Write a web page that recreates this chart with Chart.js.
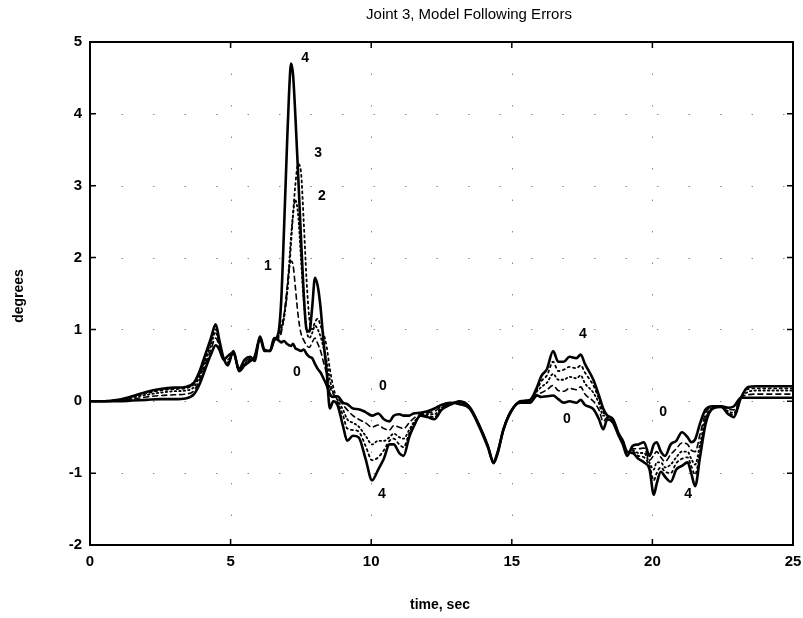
<!DOCTYPE html>
<html>
<head>
<meta charset="utf-8">
<script src="https://cdn.jsdelivr.net/npm/chart.js@4/dist/chart.umd.min.js"></script>
<style>
  html, body { margin: 0; padding: 0; background: #fff; }
  #wrap { width: 803px; height: 618px; }
</style>
</head>
<body>
<div id="wrap"><canvas id="c" width="803" height="618"></canvas></div>
<script>
// Time base shared by all five error traces (sec)
const times = [
  0, 0.5, 1, 1.5, 2, 2.5, 3, 3.4, 3.7, 3.9,
  4.1, 4.3, 4.47, 4.6, 4.75, 4.9, 5.1, 5.3, 5.5, 5.7,
  5.85, 6.05, 6.2, 6.4, 6.55, 6.7, 6.8, 6.9, 7.0, 7.08,
  7.15, 7.22, 7.3, 7.4, 7.5, 7.6, 7.7, 7.8, 7.9, 8.0,
  8.1, 8.2, 8.3, 8.42, 8.53, 8.65, 8.8, 9.0, 9.15, 9.35,
  9.55, 9.8, 10.03, 10.25, 10.45, 10.65, 10.8, 11.0, 11.15, 11.35,
  11.5, 11.75, 12.0, 12.25, 12.5, 12.8, 13.15, 13.5, 13.85, 14.15,
  14.35, 14.5, 14.7, 14.95, 15.3, 15.65, 15.9, 16.05, 16.25, 16.47,
  16.65, 16.85, 17.05, 17.3, 17.45, 17.6, 17.9, 18.1, 18.25, 18.4,
  18.6, 18.8, 18.95, 19.1, 19.3, 19.5, 19.7, 19.9, 20.05, 20.15,
  20.3, 20.45, 20.65, 20.85, 21.05, 21.25, 21.38, 21.52, 21.7, 21.9,
  22.15, 22.45, 22.7, 22.9, 23.15, 23.4, 23.7, 24.2, 25
];

// Model following error, degrees, for cases 0..4
const err0 = [
  0, 0, 0, 0.01, 0.02, 0.03, 0.03, 0.04, 0.1, 0.24,
  0.45, 0.65, 0.78, 0.72, 0.58, 0.63, 0.68, 0.45, 0.58, 0.62,
  0.56, 0.9, 0.72, 0.7, 0.88, 0.85, 0.82, 0.84, 0.8, 0.78,
  0.77, 0.8, 0.74, 0.72, 0.7, 0.72, 0.66, 0.62, 0.6, 0.52,
  0.45, 0.4, 0.32, 0.22, 0.1, 0.06, 0.07, -0.02, -0.04, -0.1,
  -0.11, -0.15, -0.2, -0.17, -0.25, -0.28, -0.2, -0.18, -0.2, -0.2,
  -0.17, -0.16, -0.14, -0.1, -0.05, -0.02, -0.04, -0.1, -0.36, -0.64,
  -0.84, -0.7, -0.4, -0.15, -0.02, -0.02, 0.08, 0.06, 0.07, 0.08,
  0.03, -0.02, 0.0, -0.02, 0.02, -0.05, -0.11, -0.25, -0.39, -0.25,
  -0.3, -0.48, -0.6, -0.76, -0.62, -0.6, -0.57, -0.76, -0.6, -0.57,
  -0.7, -0.76, -0.6, -0.55, -0.43, -0.5, -0.57, -0.53, -0.3, -0.11,
  -0.07, -0.07, -0.09, -0.07, 0.05, 0.05, 0.05, 0.05, 0.05
];
const err1 = [
  0, 0, 0.01, 0.03, 0.06, 0.08, 0.09, 0.1, 0.15, 0.3,
  0.52, 0.72, 0.88, 0.76, 0.6, 0.58, 0.66, 0.44, 0.54, 0.6,
  0.58, 0.88, 0.72, 0.7, 0.86, 0.88, 0.95, 1.2, 1.55, 1.85,
  1.95, 1.9, 1.6, 1.2, 0.95, 0.85, 0.78, 0.75, 0.82, 0.88,
  0.8, 0.7, 0.55, 0.38, 0.2, 0.1, 0.05, -0.05, -0.12, -0.2,
  -0.25, -0.3, -0.36, -0.33, -0.38, -0.4, -0.34, -0.36, -0.38, -0.3,
  -0.24, -0.18, -0.16, -0.14, -0.07, -0.03, -0.02, -0.09, -0.35, -0.63,
  -0.85, -0.71, -0.4, -0.15, -0.01, 0.0, 0.1, 0.12, 0.16, 0.22,
  0.15, 0.14, 0.18, 0.16, 0.2, 0.1, 0.0, -0.12, -0.28, -0.22,
  -0.28, -0.46, -0.58, -0.74, -0.66, -0.66, -0.65, -0.82, -0.75, -0.7,
  -0.78, -0.84, -0.74, -0.66, -0.58, -0.6, -0.68, -0.7, -0.45, -0.16,
  -0.08, -0.07, -0.11, -0.12, 0.05, 0.09, 0.1, 0.1, 0.1
];
const err2 = [
  0, 0, 0.01, 0.05, 0.09, 0.12, 0.14, 0.15, 0.2, 0.35,
  0.57, 0.78, 0.96, 0.8, 0.6, 0.54, 0.68, 0.43, 0.52, 0.58,
  0.6, 0.88, 0.71, 0.7, 0.85, 0.9, 1.0, 1.15, 1.5, 1.9,
  2.3, 2.6, 2.8, 2.6, 2.0, 1.4, 1.0, 0.88, 0.95, 1.05,
  1.0, 0.9, 0.75, 0.55, 0.3, 0.12, 0.02, -0.12, -0.25, -0.3,
  -0.35, -0.48, -0.6, -0.55, -0.55, -0.5, -0.45, -0.5, -0.52, -0.4,
  -0.3, -0.2, -0.18, -0.18, -0.09, -0.04, -0.01, -0.08, -0.34, -0.62,
  -0.85, -0.71, -0.39, -0.15, 0.0, 0.01, 0.14, 0.2, 0.26, 0.38,
  0.3, 0.3, 0.34, 0.32, 0.36, 0.25, 0.12, -0.03, -0.2, -0.2,
  -0.26, -0.45, -0.56, -0.72, -0.68, -0.72, -0.72, -0.86, -0.95, -0.85,
  -0.85, -0.92, -0.88, -0.78, -0.7, -0.7, -0.8, -0.88, -0.58, -0.22,
  -0.09, -0.07, -0.14, -0.16, 0.05, 0.13, 0.15, 0.15, 0.15
];
const err3 = [
  0, 0, 0.02, 0.06, 0.11, 0.15, 0.17, 0.18, 0.24, 0.38,
  0.6, 0.83, 1.0, 0.82, 0.6, 0.52, 0.69, 0.42, 0.51, 0.57,
  0.61, 0.88, 0.7, 0.7, 0.84, 0.92, 1.05, 1.2, 1.45, 1.8,
  2.2, 2.6, 3.0, 3.3, 3.2, 2.5, 1.7, 1.15, 1.0, 1.1,
  1.15, 1.05, 0.95, 0.75, 0.45, 0.2, 0.0, -0.2, -0.38, -0.4,
  -0.42, -0.62, -0.82, -0.78, -0.68, -0.55, -0.52, -0.6, -0.64, -0.45,
  -0.33, -0.2, -0.2, -0.22, -0.1, -0.05, 0.0, -0.08, -0.34, -0.62,
  -0.86, -0.72, -0.39, -0.16, 0.0, 0.02, 0.17, 0.28, 0.36, 0.55,
  0.42, 0.44, 0.48, 0.46, 0.5, 0.4, 0.22, 0.03, -0.15, -0.2,
  -0.26, -0.45, -0.56, -0.71, -0.7, -0.76, -0.78, -0.9, -1.1, -1.0,
  -0.92, -0.98, -1.0, -0.86, -0.8, -0.78, -0.9, -1.02, -0.68, -0.26,
  -0.1, -0.08, -0.16, -0.19, 0.05, 0.17, 0.18, 0.18, 0.18
];
const err4 = [
  0, 0, 0.02, 0.07, 0.13, 0.17, 0.19, 0.2, 0.26, 0.42,
  0.65, 0.88, 1.07, 0.85, 0.6, 0.5, 0.7, 0.42, 0.5, 0.56,
  0.62, 0.88, 0.7, 0.7, 0.85, 0.95, 1.4, 2.4, 3.5, 4.3,
  4.7, 4.55, 4.0, 3.17, 2.3, 1.5, 1.0, 0.97, 1.3, 1.72,
  1.6, 1.3, 0.85, 0.4, -0.1, 0.0, -0.05, -0.35, -0.55, -0.48,
  -0.5, -0.8, -1.1, -0.95, -0.8, -0.6, -0.6, -0.72, -0.76, -0.5,
  -0.36, -0.2, -0.22, -0.25, -0.12, -0.05, 0.0, -0.08, -0.34, -0.62,
  -0.86, -0.72, -0.39, -0.16, 0.0, 0.02, 0.2, 0.35, 0.45, 0.7,
  0.55, 0.55, 0.62, 0.6, 0.65, 0.52, 0.3, 0.08, -0.1, -0.2,
  -0.25, -0.45, -0.55, -0.7, -0.72, -0.8, -0.85, -0.95, -1.3, -1.15,
  -0.98, -1.05, -1.12, -0.95, -0.9, -0.85, -1.0, -1.18, -0.76, -0.3,
  -0.1, -0.08, -0.18, -0.22, 0.05, 0.2, 0.21, 0.21, 0.21
];

// Axis tick values
const xTickValues = [0, 5, 10, 15, 20, 25];
const yTickValues = [-2, -1, 0, 1, 2, 3, 4, 5];

// Case numbers written next to the traces
const tagTexts = ['4', '3', '2', '1', '0', '0', '4', '4', '0', '0', '4'];
const tagTimes = [7.65, 8.11, 8.25, 6.33, 7.36, 10.42, 10.38, 17.53, 16.96, 20.38, 21.27];
const tagValues = [4.78, 3.46, 2.85, 1.88, 0.4, 0.21, -1.29, 0.93, -0.25, -0.15, -1.29];

const TICK_FONT = '"Liberation Sans Narrow", "Liberation Sans", sans-serif';

function pairs(vals) {
  return times.map((t, i) => ({ x: t, y: vals[i] }));
}

function trace(label, vals, width, dash) {
  return {
    label,
    data: pairs(vals),
    borderColor: '#000',
    borderWidth: width,
    borderDash: dash,
    pointRadius: 0,
    fill: false,
    cubicInterpolationMode: 'monotone',
    borderCapStyle: 'round',
    borderJoinStyle: 'round'
  };
}

const framePlugin = {
  id: 'frame',
  beforeDatasetsDraw(chart) {
    const { ctx, chartArea: a, scales: { x, y } } = chart;
    ctx.save();
    ctx.strokeStyle = '#888';
    ctx.lineWidth = 1;
    ctx.setLineDash([1.5, 30]);
    yTickValues.forEach(v => {
      if (v === -2 || v === 5) return;
      const py = Math.round(y.getPixelForValue(v)) + 0.5;
      ctx.beginPath(); ctx.moveTo(a.left, py); ctx.lineTo(a.right, py); ctx.stroke();
    });
    xTickValues.forEach(v => {
      if (v === 0 || v === 25) return;
      const px = Math.round(x.getPixelForValue(v)) + 0.5;
      ctx.beginPath(); ctx.moveTo(px, a.top); ctx.lineTo(px, a.bottom); ctx.stroke();
    });
    ctx.restore();
  },
  afterDatasetsDraw(chart) {
    const { ctx, chartArea: a, scales: { x, y } } = chart;
    ctx.save();
    // box
    ctx.strokeStyle = '#000';
    ctx.lineWidth = 2;
    ctx.setLineDash([]);
    ctx.strokeRect(a.left, a.top, a.right - a.left, a.bottom - a.top);
    // inward ticks on all four sides
    ctx.lineWidth = 1.5;
    const L = 6;
    yTickValues.forEach(v => {
      const py = y.getPixelForValue(v);
      ctx.beginPath();
      ctx.moveTo(a.left, py); ctx.lineTo(a.left + L, py);
      ctx.moveTo(a.right, py); ctx.lineTo(a.right - L, py);
      ctx.stroke();
    });
    xTickValues.forEach(v => {
      const px = x.getPixelForValue(v);
      ctx.beginPath();
      ctx.moveTo(px, a.bottom); ctx.lineTo(px, a.bottom - L);
      ctx.moveTo(px, a.top); ctx.lineTo(px, a.top + L);
      ctx.stroke();
    });
    // case numbers on the traces
    ctx.fillStyle = '#000';
    ctx.font = 'bold 14px ' + TICK_FONT;
    ctx.textAlign = 'center';
    ctx.textBaseline = 'middle';
    tagTexts.forEach((s, i) => {
      ctx.fillText(s, x.getPixelForValue(tagTimes[i]), y.getPixelForValue(tagValues[i]));
    });
    // titles
    ctx.font = '15px "Liberation Sans", sans-serif';
    ctx.fillText('Joint 3, Model Following Errors', 469, 15);
    ctx.font = 'bold 14px "Liberation Sans", sans-serif';
    ctx.fillText('time, sec', 440, 605);
    ctx.translate(19, 296);
    ctx.rotate(-Math.PI / 2);
    ctx.fillText('degrees', 0, 0);
    ctx.restore();
  }
};

new Chart(document.getElementById('c'), {
  type: 'line',
  data: {
    datasets: [
      trace('1', err1, 1.6, [5, 4]),
      trace('2', err2, 1.8, [1.5, 3]),
      trace('3', err3, 1.8, [2, 3.5]),
      trace('0', err0, 2.6, []),
      trace('4', err4, 2.6, [])
    ]
  },
  options: {
    responsive: false,
    animation: false,
    layout: { padding: { top: 42, right: 10, left: 0, bottom: 0 } },
    plugins: { legend: { display: false }, tooltip: { enabled: false }, title: { display: false } },
    scales: {
      x: {
        type: 'linear',
        min: 0, max: 25,
        afterFit(scale) { scale.height = 73; scale.paddingLeft = 0; scale.paddingRight = 0; },
        afterBuildTicks(scale) { scale.ticks = xTickValues.map(v => ({ value: v })); },
        grid: { display: false, drawTicks: false },
        border: { display: false },
        ticks: { color: '#000', padding: 8, maxRotation: 0, font: { family: TICK_FONT, size: 15, weight: 'bold' } }
      },
      y: {
        type: 'linear',
        min: -2, max: 5,
        afterFit(scale) { scale.width = 90; scale.paddingTop = 0; scale.paddingBottom = 0; },
        afterBuildTicks(scale) { scale.ticks = yTickValues.map(v => ({ value: v })); },
        grid: { display: false, drawTicks: false },
        border: { display: false },
        ticks: { color: '#000', padding: 8, font: { family: TICK_FONT, size: 15, weight: 'bold' } }
      }
    }
  },
  plugins: [framePlugin]
});
</script>
</body>
</html>
